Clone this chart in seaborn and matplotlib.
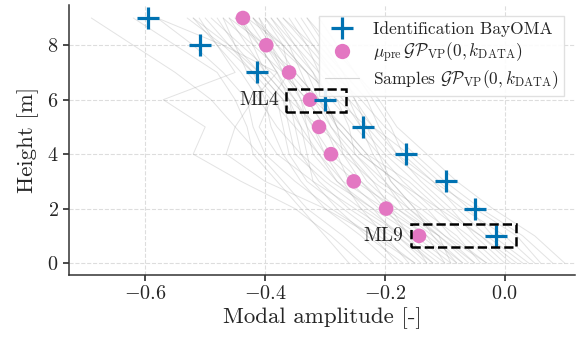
import numpy as np
import pandas as pd
import matplotlib
matplotlib.use("Agg")
import matplotlib.pyplot as plt
from matplotlib.patches import Rectangle
from matplotlib.lines import Line2D
import seaborn as sns

heights = [0, 1, 2, 3, 4, 5, 6, 7, 8, 9]

# identified mode shape (BayOMA), heights 1..9
bayoma_h = [1, 2, 3, 4, 5, 6, 7, 8, 9]
bayoma_x = [-0.015, -0.05, -0.098, -0.165, -0.237, -0.30, -0.414, -0.508, -0.595]

# predictive mean, heights 1..9
mu_h = [1, 2, 3, 4, 5, 6, 7, 8, 9]
mu_x = [-0.143, -0.198, -0.252, -0.29, -0.31, -0.325, -0.36, -0.398, -0.437]

# GP samples, values at heights 0..9
samples = [
    [-0.05, -0.10, -0.16, -0.22, -0.27, -0.30, -0.33, -0.37, -0.42, -0.47],
    [-0.12, -0.17, -0.23, -0.28, -0.31, -0.34, -0.36, -0.40, -0.43, -0.46],
    [0.02, -0.04, -0.10, -0.15, -0.20, -0.24, -0.27, -0.31, -0.35, -0.39],
    [-0.18, -0.22, -0.29, -0.35, -0.40, -0.42, -0.43, -0.47, -0.52, -0.58],
    [-0.08, -0.12, -0.15, -0.19, -0.22, -0.24, -0.26, -0.29, -0.32, -0.35],
    [-0.14, -0.19, -0.26, -0.31, -0.34, -0.35, -0.36, -0.38, -0.41, -0.44],
    [0.05, 0.00, -0.07, -0.13, -0.19, -0.23, -0.28, -0.33, -0.38, -0.42],
    [-0.15, -0.22, -0.30, -0.40, -0.465, -0.45, -0.42, -0.38, -0.47, -0.58],
    [-0.03, -0.09, -0.13, -0.18, -0.24, -0.28, -0.30, -0.32, -0.36, -0.40],
    [-0.10, -0.13, -0.19, -0.24, -0.27, -0.28, -0.31, -0.35, -0.38, -0.41],
    [0.08, 0.03, -0.04, -0.10, -0.15, -0.20, -0.24, -0.29, -0.33, -0.37],
    [-0.22, -0.27, -0.33, -0.37, -0.41, -0.45, -0.49, -0.55, -0.62, -0.69],
    [-0.06, -0.11, -0.18, -0.25, -0.30, -0.33, -0.35, -0.38, -0.41, -0.45],
    [-0.01, -0.06, -0.12, -0.17, -0.21, -0.25, -0.29, -0.32, -0.35, -0.38],
    [-0.13, -0.16, -0.20, -0.24, -0.29, -0.32, -0.34, -0.37, -0.39, -0.42],
    [-0.09, -0.15, -0.22, -0.29, -0.34, -0.38, -0.41, -0.44, -0.48, -0.51],
    [0.04, -0.02, -0.06, -0.11, -0.16, -0.22, -0.26, -0.30, -0.34, -0.38],
    [-0.16, -0.20, -0.24, -0.27, -0.30, -0.32, -0.35, -0.39, -0.44, -0.49],
    [-0.07, -0.12, -0.18, -0.23, -0.26, -0.29, -0.31, -0.33, -0.37, -0.40],
    [-0.11, -0.17, -0.24, -0.30, -0.35, -0.36, -0.37, -0.41, -0.45, -0.48],
    [-0.02, -0.07, -0.11, -0.16, -0.23, -0.27, -0.32, -0.36, -0.39, -0.41],
    [-0.19, -0.24, -0.30, -0.34, -0.37, -0.39, -0.40, -0.42, -0.46, -0.52],
    [0.00, -0.05, -0.09, -0.14, -0.18, -0.21, -0.23, -0.27, -0.31, -0.34],
    [-0.12, -0.18, -0.25, -0.32, -0.38, -0.41, -0.39, -0.36, -0.37, -0.42],
    [-0.04, -0.08, -0.14, -0.21, -0.25, -0.26, -0.28, -0.33, -0.37, -0.43],
    [-0.15, -0.21, -0.27, -0.33, -0.36, -0.37, -0.38, -0.42, -0.47, -0.53],
    [0.03, -0.03, -0.08, -0.12, -0.17, -0.19, -0.22, -0.25, -0.29, -0.33],
    [-0.08, -0.14, -0.21, -0.26, -0.28, -0.30, -0.33, -0.37, -0.40, -0.43],
    [-0.17, -0.23, -0.28, -0.32, -0.33, -0.34, -0.37, -0.41, -0.46, -0.50],
    [-0.05, -0.11, -0.17, -0.20, -0.23, -0.27, -0.31, -0.35, -0.40, -0.45],
    [-0.24, -0.29, -0.35, -0.44, -0.52, -0.50, -0.57, -0.45, -0.48, -0.52],
    [0.10, 0.05, -0.02, -0.08, -0.13, -0.18, -0.21, -0.25, -0.28, -0.31],
    [-0.10, -0.16, -0.19, -0.22, -0.26, -0.31, -0.36, -0.40, -0.42, -0.44],
    [-0.13, -0.18, -0.22, -0.28, -0.32, -0.33, -0.34, -0.36, -0.40, -0.46],
    [0.01, -0.04, -0.11, -0.18, -0.24, -0.28, -0.30, -0.31, -0.33, -0.36],
    [-0.07, -0.13, -0.20, -0.27, -0.31, -0.35, -0.39, -0.43, -0.45, -0.47],
    [-0.26, -0.30, -0.34, -0.38, -0.42, -0.43, -0.45, -0.48, -0.55, -0.62],
    [-0.03, -0.10, -0.15, -0.19, -0.21, -0.23, -0.25, -0.28, -0.32, -0.37],
    [-0.09, -0.11, -0.16, -0.20, -0.25, -0.29, -0.32, -0.34, -0.36, -0.39],
    [0.06, 0.02, -0.05, -0.12, -0.18, -0.22, -0.25, -0.27, -0.30, -0.33],
]

# highlighted locations
boxes = {"ML4": (-0.365, 5.55, 0.10, 0.85), "ML9": (-0.157, 0.59, 0.175, 0.84)}

sns.set_theme(style="ticks")
plt.rcParams["font.family"] = "serif"
plt.rcParams["font.serif"] = ["cmr10"]
plt.rcParams["mathtext.fontset"] = "cm"
plt.rcParams["axes.formatter.use_mathtext"] = True
plt.rcParams["axes.unicode_minus"] = True

rows = []
for i, s in enumerate(samples):
    for h, v in zip(heights, s):
        rows.append({"sample": i, "height": h, "x": v})
df_samples = pd.DataFrame(rows)
df_bay = pd.DataFrame({"height": bayoma_h, "x": bayoma_x})
df_mu = pd.DataFrame({"height": mu_h, "x": mu_x})

fig = plt.figure(figsize=(5.86, 3.46), dpi=100)
ax = fig.add_axes([0.118, 0.205, 0.863, 0.78])

sns.lineplot(data=df_samples, x="x", y="height", units="sample", estimator=None,
             sort=False, orient="y", color="#9a9a9a", alpha=0.28, linewidth=0.7,
             ax=ax, legend=False)
sns.scatterplot(data=df_mu, x="x", y="height", color="#e377c2", s=110,
                edgecolor="none", ax=ax, zorder=4, legend=False)
sns.scatterplot(data=df_bay, x="x", y="height", marker="+", color="#0072b2",
                s=260, linewidth=2.3, ax=ax, zorder=5, legend=False)

for name, (x0, y0, w, h) in boxes.items():
    ax.add_patch(Rectangle((x0, y0), w, h, fill=False, ls="--", lw=1.8,
                           ec="black", zorder=6))
    ax.text(x0 - 0.012, y0 + h / 2, name, ha="right", va="center", fontsize=14,
            zorder=6)

ax.set_xlim(-0.727, 0.117)
ax.set_ylim(-0.44, 9.47)
ax.set_xticks([-0.6, -0.4, -0.2, 0.0])
ax.set_yticks([0, 2, 4, 6, 8])
ax.grid(True, ls="--", color="#dddddd", lw=0.8)
ax.set_axisbelow(True)
ax.tick_params(labelsize=14.5, color="#333333", length=4)
for sp in ["left", "bottom"]:
    ax.spines[sp].set_color("#333333")
    ax.spines[sp].set_linewidth(1.1)
sns.despine(ax=ax)
ax.set_xlabel("Modal amplitude [-]", fontsize=16.5, labelpad=3)
ax.set_ylabel("Height [m]", fontsize=16.5, labelpad=6)

handles = [
    Line2D([], [], ls="none", marker="+", color="#0072b2", ms=16, mew=2.3),
    Line2D([], [], ls="none", marker="o", color="#e377c2", ms=11, mec="none"),
    Line2D([], [], color="#9a9a9a", alpha=0.4, lw=0.8),
]
labels = [
    "Identification BayOMA",
    r"$\mu_{\rm pre}\,\mathcal{GP}_{\rm VP}(0, k_{\rm DATA})$",
    r"Samples $\mathcal{GP}_{\rm VP}(0, k_{\rm DATA})$",
]
ax.legend(handles, labels, loc="upper right", fontsize=12.5, frameon=True,
          fancybox=False, edgecolor="#dddddd", framealpha=0.9,
          borderpad=0.3, labelspacing=0.2, handletextpad=0.8,
          borderaxespad=0.6, bbox_to_anchor=(1.0, 1.0))

fig.savefig("out.png", dpi=100)
